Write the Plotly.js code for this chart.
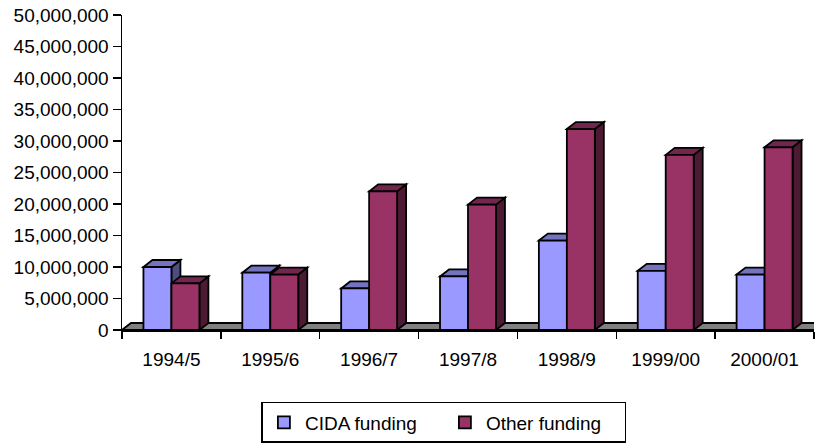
<!DOCTYPE html>
<html>
<head>
<meta charset="utf-8">
<script src="https://cdn.plot.ly/plotly-3.0.1.min.js"></script>
<style>html,body{margin:0;padding:0;background:#fff}#chart{width:816px;height:446px}</style>
</head>
<body>
<div id="chart"></div>
<script>
var categories = ["1994/5", "1995/6", "1996/7", "1997/8", "1998/9", "1999/00", "2000/01"];
var cidaFunding = [10000000, 9100000, 6600000, 8500000, 14200000, 9400000, 8800000];
var otherFunding = [7400000, 8800000, 22000000, 19900000, 31900000, 27800000, 29000000];
var yTickVals = [0, 5000000, 10000000, 15000000, 20000000, 25000000, 30000000, 35000000, 40000000, 45000000, 50000000];

var FONT = "Liberation Sans, Arial, sans-serif";
var cidaColors = {front: "#9999FF", top: "#7373BF", side: "#4D4D80"};
var otherColors = {front: "#993366", top: "#73264D", side: "#4D1A33"};

var xIdx = categories.map(function (c, i) { return i; });
var BARW = 0.283;           // width of one bar in category units
var DX = 0.091;             // depth offset in x (category units)
var DY = 1110000;           // depth offset in y (data units)
var LW = 1.8;

var traces = [
  {type: "bar", name: "CIDA funding", x: xIdx, y: cidaFunding, width: BARW, offset: -BARW,
   marker: {color: cidaColors.front, line: {color: "#000", width: LW}}, hoverinfo: "y"},
  {type: "bar", name: "Other funding", x: xIdx, y: otherFunding, width: BARW, offset: 0,
   marker: {color: otherColors.front, line: {color: "#000", width: LW}}, hoverinfo: "y"}
];

function poly(pts, fill) {
  var d = pts.map(function (p, i) { return (i ? "L" : "M") + p[0] + "," + p[1]; }).join(" ") + " Z";
  return {type: "path", xref: "x", yref: "y", path: d, fillcolor: fill,
          line: {color: "#000", width: LW}, layer: "below"};
}

var shapes = [];
// floor
shapes.push(poly([[-0.5, 0], [7, 0], [7 + DX, DY], [-0.5 + DX, DY]], "#808080"));
function box3d(x0, v, col) {
  var x1 = x0 + BARW;
  shapes.push(poly([[x1, 0], [x1 + DX, DY], [x1 + DX, v + DY], [x1, v]], col.side));
  shapes.push(poly([[x0, v], [x0 + DX, v + DY], [x1 + DX, v + DY], [x1, v]], col.top));
}
xIdx.forEach(function (i) {
  box3d(i - BARW, cidaFunding[i], cidaColors);
  box3d(i, otherFunding[i], otherColors);
});

var boundaries = [];
for (var k = 0; k <= categories.length; k++) boundaries.push(k - 0.5);

var layout = {
  width: 816, height: 446,
  margin: {l: 122, r: 2, t: 15, b: 116},
  paper_bgcolor: "#fff", plot_bgcolor: "#fff",
  font: {family: FONT, size: 19, color: "#000"},
  barmode: "overlay",
  showlegend: true,
  xaxis: {
    type: "linear", range: [-0.5, 6.5], tickmode: "array", tickvals: xIdx, ticktext: categories,
    ticks: "outside", ticklen: 12, tickcolor: "rgba(0,0,0,0)",
    showline: true, linecolor: "#000", linewidth: 1.5, showgrid: false, zeroline: false,
    minor: {tickmode: "array", tickvals: boundaries, ticks: "outside", ticklen: 7, tickwidth: 1.5, tickcolor: "#000", showgrid: false},
    tickfont: {family: FONT, size: 19, color: "#000"}, fixedrange: true
  },
  yaxis: {
    range: [0, 50000000], tickmode: "array", tickvals: yTickVals, tickformat: ",d",
    ticks: "outside", ticklen: 8, tickwidth: 1.5, tickcolor: "#000",
    showline: true, linecolor: "#000", linewidth: 1.5, showgrid: false, zeroline: false,
    tickfont: {family: FONT, size: 19, color: "#000"}, fixedrange: true
  },
  legend: {
    orientation: "h", xref: "container", yref: "container",
    x: 0.544, xanchor: "center", y: 0.0987, yanchor: "top",
    bordercolor: "#000", borderwidth: 1.5, bgcolor: "#fff",
    font: {family: FONT, size: 19, color: "#000"},
    itemwidth: 32, entrywidth: 134, entrywidthmode: "pixels", traceorder: "normal"
  },
  shapes: shapes
};

Plotly.newPlot("chart", traces, layout, {displayModeBar: false, staticPlot: true});
</script>
</body>
</html>
